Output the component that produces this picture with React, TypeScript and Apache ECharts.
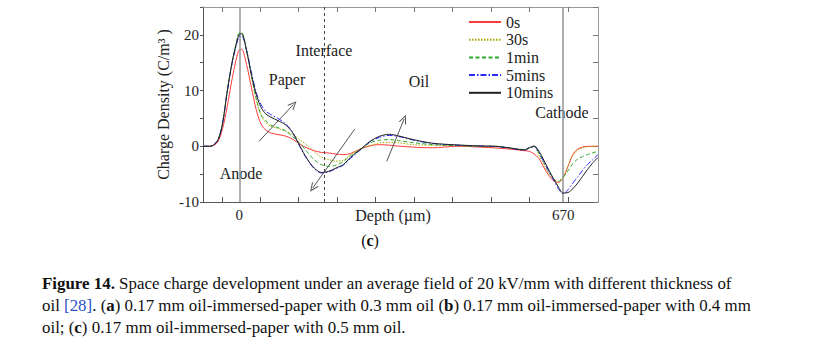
import React, { useEffect, useRef } from "react";
import * as echarts from "echarts";

// depth positions (µm)
const depth = [
  -75, -60, -45, -35, -25, -15, -5,
  0, 5, 15, 25, 35, 45, 55, 65,
  80, 95, 110, 125, 140, 155, 170, 185, 200, 215, 230,
  250, 270, 290, 310, 330, 360, 400, 450, 500, 530, 560, 590,
  600, 610, 620, 630, 640, 650, 660, 670, 680, 690, 700, 710, 720, 730, 742,
];

// charge density (C/m³)
const q0s = [
  0, 0, 0.7, 3.0, 7.1, 12.0, 16.1,
  17.3, 17.4, 14.7, 10.6, 6.6, 4.0, 2.9, 2.4,
  2.1, 1.85, 1.3, 0.4, -0.3, -0.8, -1.1, -1.2, -1.4, -1.5, -1.3,
  -0.5, 0.07, 0.3, 0.2, 0.03, -0.15, -0.27, 0, -0.15, -0.3, -0.5, -0.8,
  -0.9, -1.4, -2.2, -3.8, -5.2, -6.2, -6.5, -5.6, -3.6, -1.5, -0.5, -0.15, 0, 0, 0,
];
const q30s = [
  0, 0, 1.0, 3.9, 9.8, 15.0, 18.9,
  20.2, 20.2, 17.2, 12.6, 8.3, 5.5, 4.25, 3.6,
  3.2, 2.75, 2.1, 1.2, 0.2, -0.95, -1.95, -2.4, -2.65, -2.5, -1.5,
  -0.5, 0.1, 0.6, 0.7, 0.6, 0.3, 0.18, 0.1, 0, 0, -0.3, -0.6,
  -0.3, -0.1, -1.6, -3.2, -4.8, -5.9, -6.4, -5.7, -3.5, -1.6, -0.7, -0.3, -0.1, 0, 0,
];
const q1min = [
  0, 0, 1.0, 3.9, 9.8, 15.0, 19.0,
  20.4, 20.4, 17.3, 12.8, 8.6, 5.7, 4.6, 3.8,
  3.35, 2.8, 1.75, 0.6, -0.95, -2.4, -3.3, -3.6, -3.4, -2.75, -1.7,
  -0.6, 0.6, 1.1, 1.2, 1.0, 0.65, 0.3, 0.12, 0, 0, -0.3, -0.6,
  -0.2, 0, -1.3, -2.9, -4.5, -5.8, -6.3, -5.5, -4.4, -3.1, -2.3, -1.85, -1.5, -1.2, -0.9,
];
const q5min = [
  0, 0, 1.0, 3.9, 9.7, 14.8, 18.5,
  19.7, 19.8, 17.3, 13.3, 9.7, 7.5, 6.3, 5.7,
  5.0, 4.1, 2.6, 0.0, -2.3, -4.0, -4.8, -4.6, -4.0, -3.4, -2.2,
  -0.7, 0.75, 1.6, 1.95, 1.75, 1.1, 0.5, 0.2, 0.05, -0.05, -0.35, -0.7,
  -0.3, -0.1, -1.1, -2.8, -4.5, -6.0, -7.6, -8.5, -7.8, -6.6, -5.5, -4.3, -3.3, -2.5, -1.5,
];
const q10min = [
  0, 0, 1.0, 3.9, 9.8, 15.0, 18.8,
  20.1, 20.2, 17.2, 12.9, 9.3, 7.0, 5.8, 5.25,
  4.6, 3.9, 2.5, 0.1, -2.2, -3.9, -4.7, -4.5, -3.9, -3.3, -2.0,
  -0.6, 0.85, 1.8, 2.15, 1.85, 1.2, 0.55, 0.25, 0.05, 0, -0.3, -0.65,
  -0.25, 0.05, -0.9, -2.5, -4.2, -5.8, -7.3, -8.4, -8.3, -7.6, -6.6, -5.4, -4.2, -3.1, -2.0,
];

const seriesNames = ["0s", "30s", "1min", "5mins", "10mins"];
const seriesValues = [q0s, q30s, q1min, q5min, q10min];
const seriesColors = ["#ff3b3b", "#a8a800", "#2fa82f", "#2a2aff", "#222222"];
const seriesDash: any[] = ["solid", [1.5, 1.5], [4, 2.5], [6, 2, 1.5, 2], "solid"];

const xLabelValues = [0, 670];
const xTickValues = [-36, 43, 123, 202, 282, 362, 441, 521, 600, 680];
const electrodeDepths = [0, 670];
const interfaceDepth = 175;

// trend arrows [from, to] in (depth, density)
const arrows = [
  [[41, 0.9], [112, 7.5]],
  [[239, 3.1], [152, -7.5]],
  [[305, -2.7], [341, 4.9]],
];

const FONT = "'Liberation Serif', 'Times New Roman', serif";
const CAP = 16.9;

export default function App() {
  const ref = useRef<HTMLDivElement>(null);
  useEffect(() => {
    const chart = echarts.init(ref.current!, null, { renderer: "svg" });
    const arrowHead = "path://M0,10 L5,0 L10,10 L8.6,10 L5,2.6 L1.4,10 Z";
    const lineSeries = seriesNames.map((name, i) => ({
      name,
      type: "line",
      data: depth.map((d, j) => [d, seriesValues[i][j]]),
      smooth: 0.3,
      symbol: "none",
      lineStyle: { color: seriesColors[i], width: 1, type: seriesDash[i] },
      itemStyle: { color: seriesColors[i] },
      z: 3 + i,
    }));
    const capText = (text: string, y: number) => ({
      type: "text",
      x: 42,
      y,
      silent: true,
      style: {
        text,
        fontFamily: FONT,
        fontSize: CAP,
        fill: "#111",
        align: "left",
        verticalAlign: "middle",
        rich: {
          b: { fontFamily: FONT, fontSize: CAP, fontWeight: "bold", fill: "#111" },
          l: { fontFamily: FONT, fontSize: CAP, fill: "#2b50c8" },
        },
      },
    });
    const option: any = {
      animation: false,
      backgroundColor: "#fff",
      grid: { left: 203, right: 229, top: 7, bottom: 149, containLabel: false },
      legend: {
        orient: "vertical",
        left: 468,
        top: 14,
        padding: 0,
        itemWidth: 32,
        itemHeight: 10,
        itemGap: 1.7,
        data: seriesNames,
        itemStyle: { opacity: 0 },
        textStyle: { fontFamily: FONT, fontSize: 16, color: "#222", lineHeight: 15 },
      },
      xAxis: [
        {
          type: "value",
          min: -75,
          max: 742,
          position: "bottom",
          name: "Depth (µm)",
          nameLocation: "middle",
          nameGap: 5,
          nameMoveOverlap: false,
          nameTextStyle: { fontFamily: FONT, fontSize: 16, color: "#222", padding: [0, 15, 0, 0] },
          axisLine: { onZero: false, lineStyle: { color: "#555", width: 1 } },
          axisTick: { inside: true, length: 5, customValues: xTickValues, lineStyle: { color: "#555" } },
          axisLabel: { customValues: xLabelValues, fontFamily: FONT, fontSize: 15, color: "#222", margin: 5 },
          splitLine: { show: false },
        },
        {
          type: "value",
          min: -75,
          max: 742,
          position: "top",
          axisLine: { show: true, onZero: false, lineStyle: { color: "#999", width: 1 } },
          axisTick: { inside: true, length: 5, customValues: xTickValues, lineStyle: { color: "#777" } },
          axisLabel: { show: false },
          splitLine: { show: false },
        },
      ],
      yAxis: [
        {
          type: "value",
          min: -10,
          max: 25,
          interval: 5,
          position: "left",
          name: "Charge Density (C/m³ )",
          nameLocation: "middle",
          nameGap: 32,
          nameMoveOverlap: false,
          nameTextStyle: { fontFamily: FONT, fontSize: 16, color: "#222" },
          axisLine: { show: true, onZero: false, lineStyle: { color: "#555", width: 1 } },
          axisTick: { show: true, inside: false, length: 3, lineStyle: { color: "#555" } },
          axisLabel: {
            fontFamily: FONT,
            fontSize: 15,
            color: "#222",
            margin: 4,
            formatter: (v: number) => (v % 10 === 0 ? String(v) : ""),
          },
          splitLine: { show: false },
        },
        {
          type: "value",
          min: -10,
          max: 25,
          interval: 5,
          position: "right",
          axisLine: { show: true, onZero: false, lineStyle: { color: "#999", width: 1 } },
          axisTick: { show: true, inside: true, length: 5, lineStyle: { color: "#777" } },
          axisLabel: { show: false },
          splitLine: { show: false },
        },
      ],
      series: [
        {
          name: "guides",
          type: "line",
          data: [],
          silent: true,
          z: 1,
          markLine: {
            silent: true,
            symbol: ["none", "none"],
            label: { show: false },
            emphasis: { disabled: true },
            data: [
              ...electrodeDepths.map((d) => ({ xAxis: d, lineStyle: { color: "#9a9a9a", width: 1.6, type: "solid" } })),
              { xAxis: interfaceDepth, lineStyle: { color: "#444", width: 1, type: [3, 3] } },
            ],
          },
        },
        {
          name: "trend",
          type: "line",
          data: [],
          silent: true,
          z: 10,
          markLine: {
            silent: true,
            symbol: ["none", arrowHead],
            symbolSize: [8, 9],
            label: { show: false },
            emphasis: { disabled: true },
            lineStyle: { color: "#555", width: 1, type: "solid" },
            data: arrows.map(([a, b]) => [{ coord: a }, { coord: b }]),
          },
        },
        ...lineSeries,
      ],
      graphic: [
        ...[
          ["Interface", 324, 50],
          ["Paper", 287, 79],
          ["Anode", 241, 173],
          ["Oil", 419, 81],
          ["Cathode", 562, 112],
        ].map(([t, x, y]) => ({
          type: "text",
          x: x as number,
          y: y as number,
          silent: true,
          style: {
            text: t as string,
            fontFamily: FONT,
            fontSize: 16,
            fill: "#222",
            align: "center",
            verticalAlign: "middle",
          },
        })),
        {
          type: "text",
          x: 370,
          y: 240,
          silent: true,
          style: {
            text: "({b|c})",
            fontFamily: FONT,
            fontSize: 16,
            fill: "#111",
            align: "center",
            verticalAlign: "middle",
            rich: { b: { fontFamily: FONT, fontSize: 16, fontWeight: "bold", fill: "#111" } },
          },
        },
        capText("{b|Figure 14.} Space charge development under an average field of 20 kV/mm with different thickness of", 283),
        capText("oil {l|[28]}. ({b|a}) 0.17 mm oil-immersed-paper with 0.3 mm oil ({b|b}) 0.17 mm oil-immersed-paper with 0.4 mm", 305),
        capText("oil; ({b|c}) 0.17 mm oil-immersed-paper with 0.5 mm oil.", 327),
      ],
    };
    chart.setOption(option);
    return () => chart.dispose();
  }, []);
  return (
    <div
      ref={ref}
      style={{ position: "fixed", left: 0, top: 0, width: 827, height: 351, background: "#fff" }}
    />
  );
}
